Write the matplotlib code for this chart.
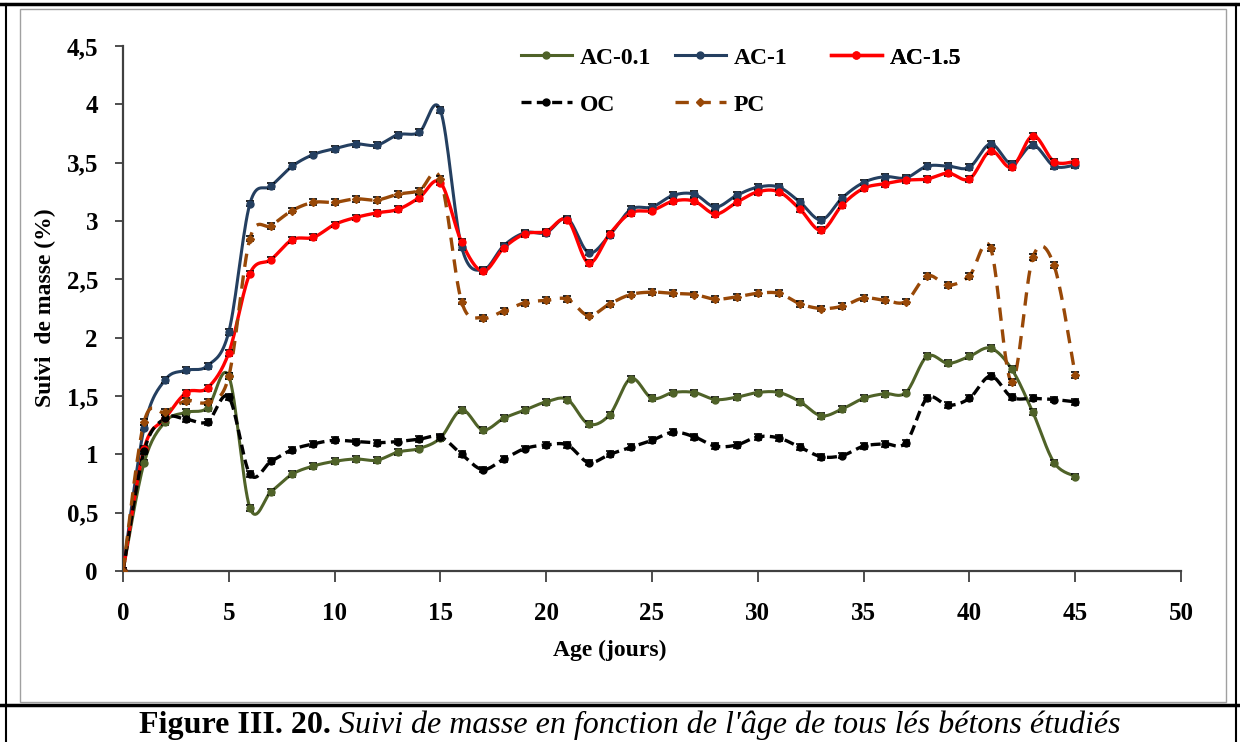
import numpy as np
import matplotlib.pyplot as plt
from matplotlib.lines import Line2D

plt.rcParams['font.family'] = ['Liberation Serif', 'DejaVu Serif']

jours = np.arange(0, 46)

ac_01 = [0, 0.93, 1.28, 1.36, 1.40, 1.67, 0.54, 0.68, 0.83, 0.90, 0.94, 0.96, 0.95, 1.02, 1.05, 1.14,
         1.38, 1.21, 1.31, 1.38, 1.45, 1.47, 1.26, 1.34, 1.65, 1.48, 1.53, 1.53, 1.47, 1.49, 1.53,
         1.53, 1.45, 1.33, 1.39, 1.48, 1.52, 1.53, 1.84, 1.78, 1.84, 1.91, 1.73, 1.36, 0.93, 0.81]
ac_1 = [0, 1.23, 1.64, 1.72, 1.76, 2.05, 3.15, 3.30, 3.47, 3.57, 3.62, 3.66, 3.65, 3.74, 3.76, 3.95,
        2.78, 2.58, 2.79, 2.90, 2.90, 3.02, 2.73, 2.88, 3.10, 3.12, 3.22, 3.23, 3.12, 3.22, 3.29,
        3.29, 3.16, 3.01, 3.20, 3.33, 3.38, 3.37, 3.47, 3.47, 3.46, 3.66, 3.49, 3.65, 3.47, 3.48]
ac_15 = [0, 1.05, 1.31, 1.53, 1.57, 1.87, 2.55, 2.67, 2.84, 2.86, 2.97, 3.03, 3.07, 3.10, 3.20, 3.33,
         2.82, 2.57, 2.77, 2.89, 2.91, 3.01, 2.64, 2.89, 3.07, 3.09, 3.17, 3.17, 3.06, 3.16, 3.25,
         3.25, 3.10, 2.92, 3.14, 3.28, 3.32, 3.35, 3.36, 3.41, 3.36, 3.60, 3.46, 3.73, 3.51, 3.51]
oc = [0, 1.03, 1.31, 1.30, 1.28, 1.49, 0.83, 0.94, 1.04, 1.09, 1.12, 1.11, 1.10, 1.11, 1.13, 1.15,
      1.00, 0.87, 0.96, 1.05, 1.08, 1.08, 0.93, 1.00, 1.06, 1.12, 1.19, 1.15, 1.07, 1.08, 1.15,
      1.14, 1.06, 0.98, 0.99, 1.07, 1.09, 1.10, 1.48, 1.42, 1.48, 1.67, 1.49, 1.48, 1.47, 1.45]
pc = [0, 1.28, 1.36, 1.46, 1.45, 1.67, 2.85, 2.96, 3.09, 3.16, 3.16, 3.19, 3.18, 3.23, 3.26, 3.36,
      2.31, 2.17, 2.23, 2.30, 2.32, 2.33, 2.19, 2.29, 2.37, 2.39, 2.38, 2.37, 2.33, 2.35, 2.38,
      2.38, 2.29, 2.25, 2.27, 2.34, 2.32, 2.31, 2.53, 2.45, 2.53, 2.77, 1.62, 2.69, 2.62, 1.68]

y_ticks = [0, 0.5, 1, 1.5, 2, 2.5, 3, 3.5, 4, 4.5]
y_labels = ['0', '0,5', '1', '1,5', '2', '2,5', '3', '3,5', '4', '4,5']
x_ticks = list(range(0, 51, 5))


def lissage(x, y, n=16):
    # courbe lissée type Excel (Catmull-Rom)
    x = np.asarray(x, float)
    y = np.asarray(y, float)
    px = np.concatenate(([x[0]], x, [x[-1]]))
    py = np.concatenate(([y[0]], y, [y[-1]]))
    xs, ys = [], []
    t = np.linspace(0, 1, n, endpoint=False)
    for i in range(1, len(px) - 2):
        for p, out in ((px, xs), (py, ys)):
            p0, p1, p2, p3 = p[i - 1], p[i], p[i + 1], p[i + 2]
            out.extend(0.5 * (2 * p1 + (-p0 + p2) * t + (2 * p0 - 5 * p1 + 4 * p2 - p3) * t ** 2
                              + (-p0 + 3 * p1 - 3 * p2 + p3) * t ** 3))
    xs.append(x[-1])
    ys.append(y[-1])
    return xs, ys


fig = plt.figure(figsize=(12.4, 7.42), dpi=100)
ax = fig.add_axes([123 / 1240, 1 - 571 / 742, (1181 - 123) / 1240, (571 - 46) / 742])

series = [
    ('AC-0.1', ac_01, '#4f6228', '-', 'o', 2.2),
    ('AC-1', ac_1, '#243f60', '-', 'o', 2.2),
    ('AC-1.5', ac_15, '#ff0000', '-', 'o', 2.4),
    ('OC', oc, '#000000', (0, (3, 1.6)), 'o', 2.4),
    ('PC', pc, '#984807', (0, (4, 2.6)), 'D', 2.4),
]

handles = {}
for nom, vals, col, ls, mk, lw in series:
    xs, ys = lissage(jours, vals)
    ax.plot(xs, ys, color=col, linestyle=ls, linewidth=lw, zorder=3)
    ax.errorbar(jours, vals, yerr=0.025, fmt='none', ecolor='black', elinewidth=1,
                capsize=3, capthick=1.2, zorder=4)
    ax.plot(jours, vals, linestyle='none', marker=mk, markersize=5 if mk == 'o' else 4.5,
            color=col, zorder=5)
    handles[nom] = Line2D([], [], color=col, linestyle=ls, linewidth=lw, marker=mk,
                          markersize=5 if mk == 'o' else 4.5)

# légende en colonnes de largeur égale
colonnes = [(['AC-0.1', 'OC'], 521), (['AC-1', 'PC'], 675), (['AC-1.5'], 831)]
for noms, xpix in colonnes:
    leg = ax.legend([handles[k] for k in noms], noms, loc='upper left',
                    bbox_to_anchor=((xpix - 123) / 1058, (571 - 47) / 525), frameon=False,
                    borderpad=0, borderaxespad=0, handlelength=2.15, handletextpad=0.35,
                    labelspacing=1.08, prop={'weight': 'bold', 'size': 17})
    ax.add_artist(leg)

ax.set_xlim(0, 50)
ax.set_ylim(0, 4.5)
ax.set_xticks(x_ticks)
ax.set_yticks(y_ticks)
ax.set_yticklabels(y_labels)
for s in ['top', 'right']:
    ax.spines[s].set_visible(False)
for s in ['left', 'bottom']:
    ax.spines[s].set_color('#404040')
    ax.spines[s].set_linewidth(1.6)
ax.tick_params(axis='x', direction='out', length=8, width=1.3, pad=14, colors='#404040',
               labelcolor='black', labelsize=18)
ax.tick_params(axis='y', direction='out', length=6, width=1.3, pad=12, colors='#404040',
               labelcolor='black', labelsize=18)
for lab in ax.get_xticklabels() + ax.get_yticklabels():
    lab.set_fontweight('bold')

fig.text(45 / 1240, 1 - 308 / 742, 'Suivi  de masse (%)', rotation=90, ha='center', va='center',
         fontsize=17, fontweight='bold')
fig.text(610 / 1240, 1 - 650 / 742, 'Age (jours)', ha='center', va='center',
         fontsize=17, fontweight='bold')

# cadres
fig.add_artist(plt.Rectangle((20 / 1240, 1 - 702 / 742), 1206 / 1240, 693 / 742,
                             transform=fig.transFigure, fill=False, edgecolor='#a0a0a0', linewidth=1))
fig.add_artist(Line2D([0, 1], [1 - 705 / 742] * 2, transform=fig.transFigure, color='black', linewidth=2.5))
fig.add_artist(Line2D([0, 1], [1 - 4 / 742] * 2, transform=fig.transFigure, color='black', linewidth=2.5))
fig.add_artist(Line2D([6 / 1240] * 2, [0, 1 - 4 / 742], transform=fig.transFigure, color='black', linewidth=1.5))
fig.add_artist(Line2D([1236 / 1240] * 2, [0, 1 - 4 / 742], transform=fig.transFigure, color='black', linewidth=1.5))

# légende de la figure
t1 = fig.text(0, 1 - 725 / 742, 'Figure III. 20.', fontsize=23, fontweight='bold', va='center')
t2 = fig.text(0, 1 - 725 / 742, ' Suivi de masse en fonction de l\'âge de tous lés bétons étudiés',
              fontsize=23, style='italic', va='center')
r = fig.canvas.get_renderer()
w1 = t1.get_window_extent(r).width
w2 = t2.get_window_extent(r).width
x0 = (1240 - w1 - w2) / 2 + 10
t1.set_x(x0 / 1240)
t2.set_x((x0 + w1) / 1240)

fig.savefig('out.png', dpi=100)
